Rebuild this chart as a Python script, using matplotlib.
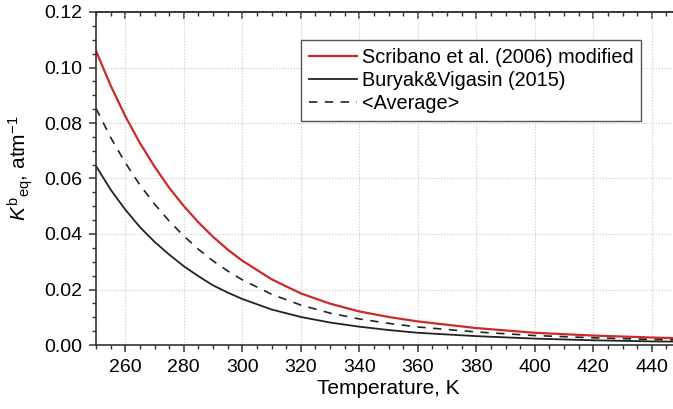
import numpy as np
import matplotlib
matplotlib.use("Agg")
import matplotlib.pyplot as plt
from matplotlib.ticker import MultipleLocator

plt.rcParams["font.family"] = ["Liberation Sans", "DejaVu Sans"]
plt.rcParams["mathtext.fontset"] = "custom"
plt.rcParams["mathtext.rm"] = "Liberation Sans"
plt.rcParams["mathtext.it"] = "Liberation Sans:italic"

# values
temperature = [250, 255, 260, 265, 270, 275, 280, 285, 290, 295, 300,
               310, 320, 330, 340, 350, 360, 380, 400, 420, 440, 450]
scribano = [0.106, 0.0935, 0.0825, 0.0728, 0.0643, 0.0567, 0.0501, 0.0442,
            0.0390, 0.0344, 0.0304, 0.0237, 0.0186, 0.0149, 0.0121, 0.0101,
            0.0085, 0.0061, 0.0044, 0.0034, 0.0027, 0.0024]
buryak = [0.0645, 0.0560, 0.0488, 0.0425, 0.0372, 0.0326, 0.0284, 0.0248,
          0.0215, 0.0189, 0.0166, 0.0128, 0.0101, 0.0081, 0.0066, 0.0054,
          0.0044, 0.0032, 0.0023, 0.0017, 0.0013, 0.0012]
average = [0.0853, 0.0748, 0.0657, 0.0577, 0.0508, 0.0447, 0.0393, 0.0345,
           0.0303, 0.0267, 0.0235, 0.0183, 0.0144, 0.0115, 0.0094, 0.0078,
           0.0065, 0.0047, 0.0034, 0.0026, 0.0020, 0.0018]

labels = ["Scribano et al. (2006) modified", "Buryak&Vigasin (2015)", "<Average>"]

fig = plt.figure(figsize=(6.73, 4.09), dpi=100)
ax = fig.add_axes([96 / 673, 64 / 409, 585 / 673, 333 / 409])

ax.plot(temperature, scribano, color="#cc2a2a", lw=1.6, label=labels[0])
ax.plot(temperature, buryak, color="#222222", lw=1.3, label=labels[1])
ax.plot(temperature, average, color="#222222", lw=1.2, ls=(0, (5, 4.5)),
        label=labels[2])

ax.set_xlim(250, 450)
ax.set_ylim(0, 0.12)
ax.xaxis.set_major_locator(MultipleLocator(20))
ax.xaxis.set_minor_locator(MultipleLocator(5))
ax.yaxis.set_major_locator(MultipleLocator(0.02))
ax.yaxis.set_minor_locator(MultipleLocator(0.005))
ax.yaxis.set_major_formatter(lambda v, p: f"{v:.2f}")

ax.grid(True, which="major", color="#c8c8c8", ls=":", lw=0.8)
ax.tick_params(which="major", direction="out", length=5, width=1.1,
               labelsize=14, pad=5, color="#333333")
ax.tick_params(which="minor", direction="out", length=3, width=1.0,
               color="#333333")
for s in ax.spines.values():
    s.set_color("#333333")
    s.set_linewidth(1.2)

# mirrored ticks on top/right point inwards
top = ax.secondary_xaxis("top")
top.xaxis.set_major_locator(MultipleLocator(20))
top.xaxis.set_minor_locator(MultipleLocator(5))
top.tick_params(which="both", direction="in", labeltop=False, color="#333333")
top.tick_params(which="major", length=5, width=1.1)
top.tick_params(which="minor", length=3, width=1.0)
top.spines["top"].set_color("#333333")
top.spines["top"].set_linewidth(1.2)
right = ax.secondary_yaxis("right")
right.yaxis.set_major_locator(MultipleLocator(0.02))
right.yaxis.set_minor_locator(MultipleLocator(0.005))
right.tick_params(which="both", direction="in", labelright=False, color="#333333")
right.tick_params(which="major", length=5, width=1.1)
right.tick_params(which="minor", length=3, width=1.0)

ax.set_xlabel("Temperature, K", fontsize=15, labelpad=2)
ax.set_ylabel(r"$K^{\mathrm{b}}{}_{\mathrm{eq}}$, atm$^{\mathrm{-1}}$", fontsize=15)
ax.yaxis.set_label_coords(-0.105, 0.53)

leg = ax.legend(loc="upper left", bbox_to_anchor=(301 / 673, 1 - 40 / 409),
                bbox_transform=fig.transFigure, borderaxespad=0,
                fontsize=14.3, fancybox=False, framealpha=1,
                edgecolor="#555555", handlelength=2.4, handletextpad=0.25,
                labelspacing=0.2, borderpad=0.4)
leg.get_frame().set_linewidth(1.0)

fig.savefig("out.png", dpi=100)
